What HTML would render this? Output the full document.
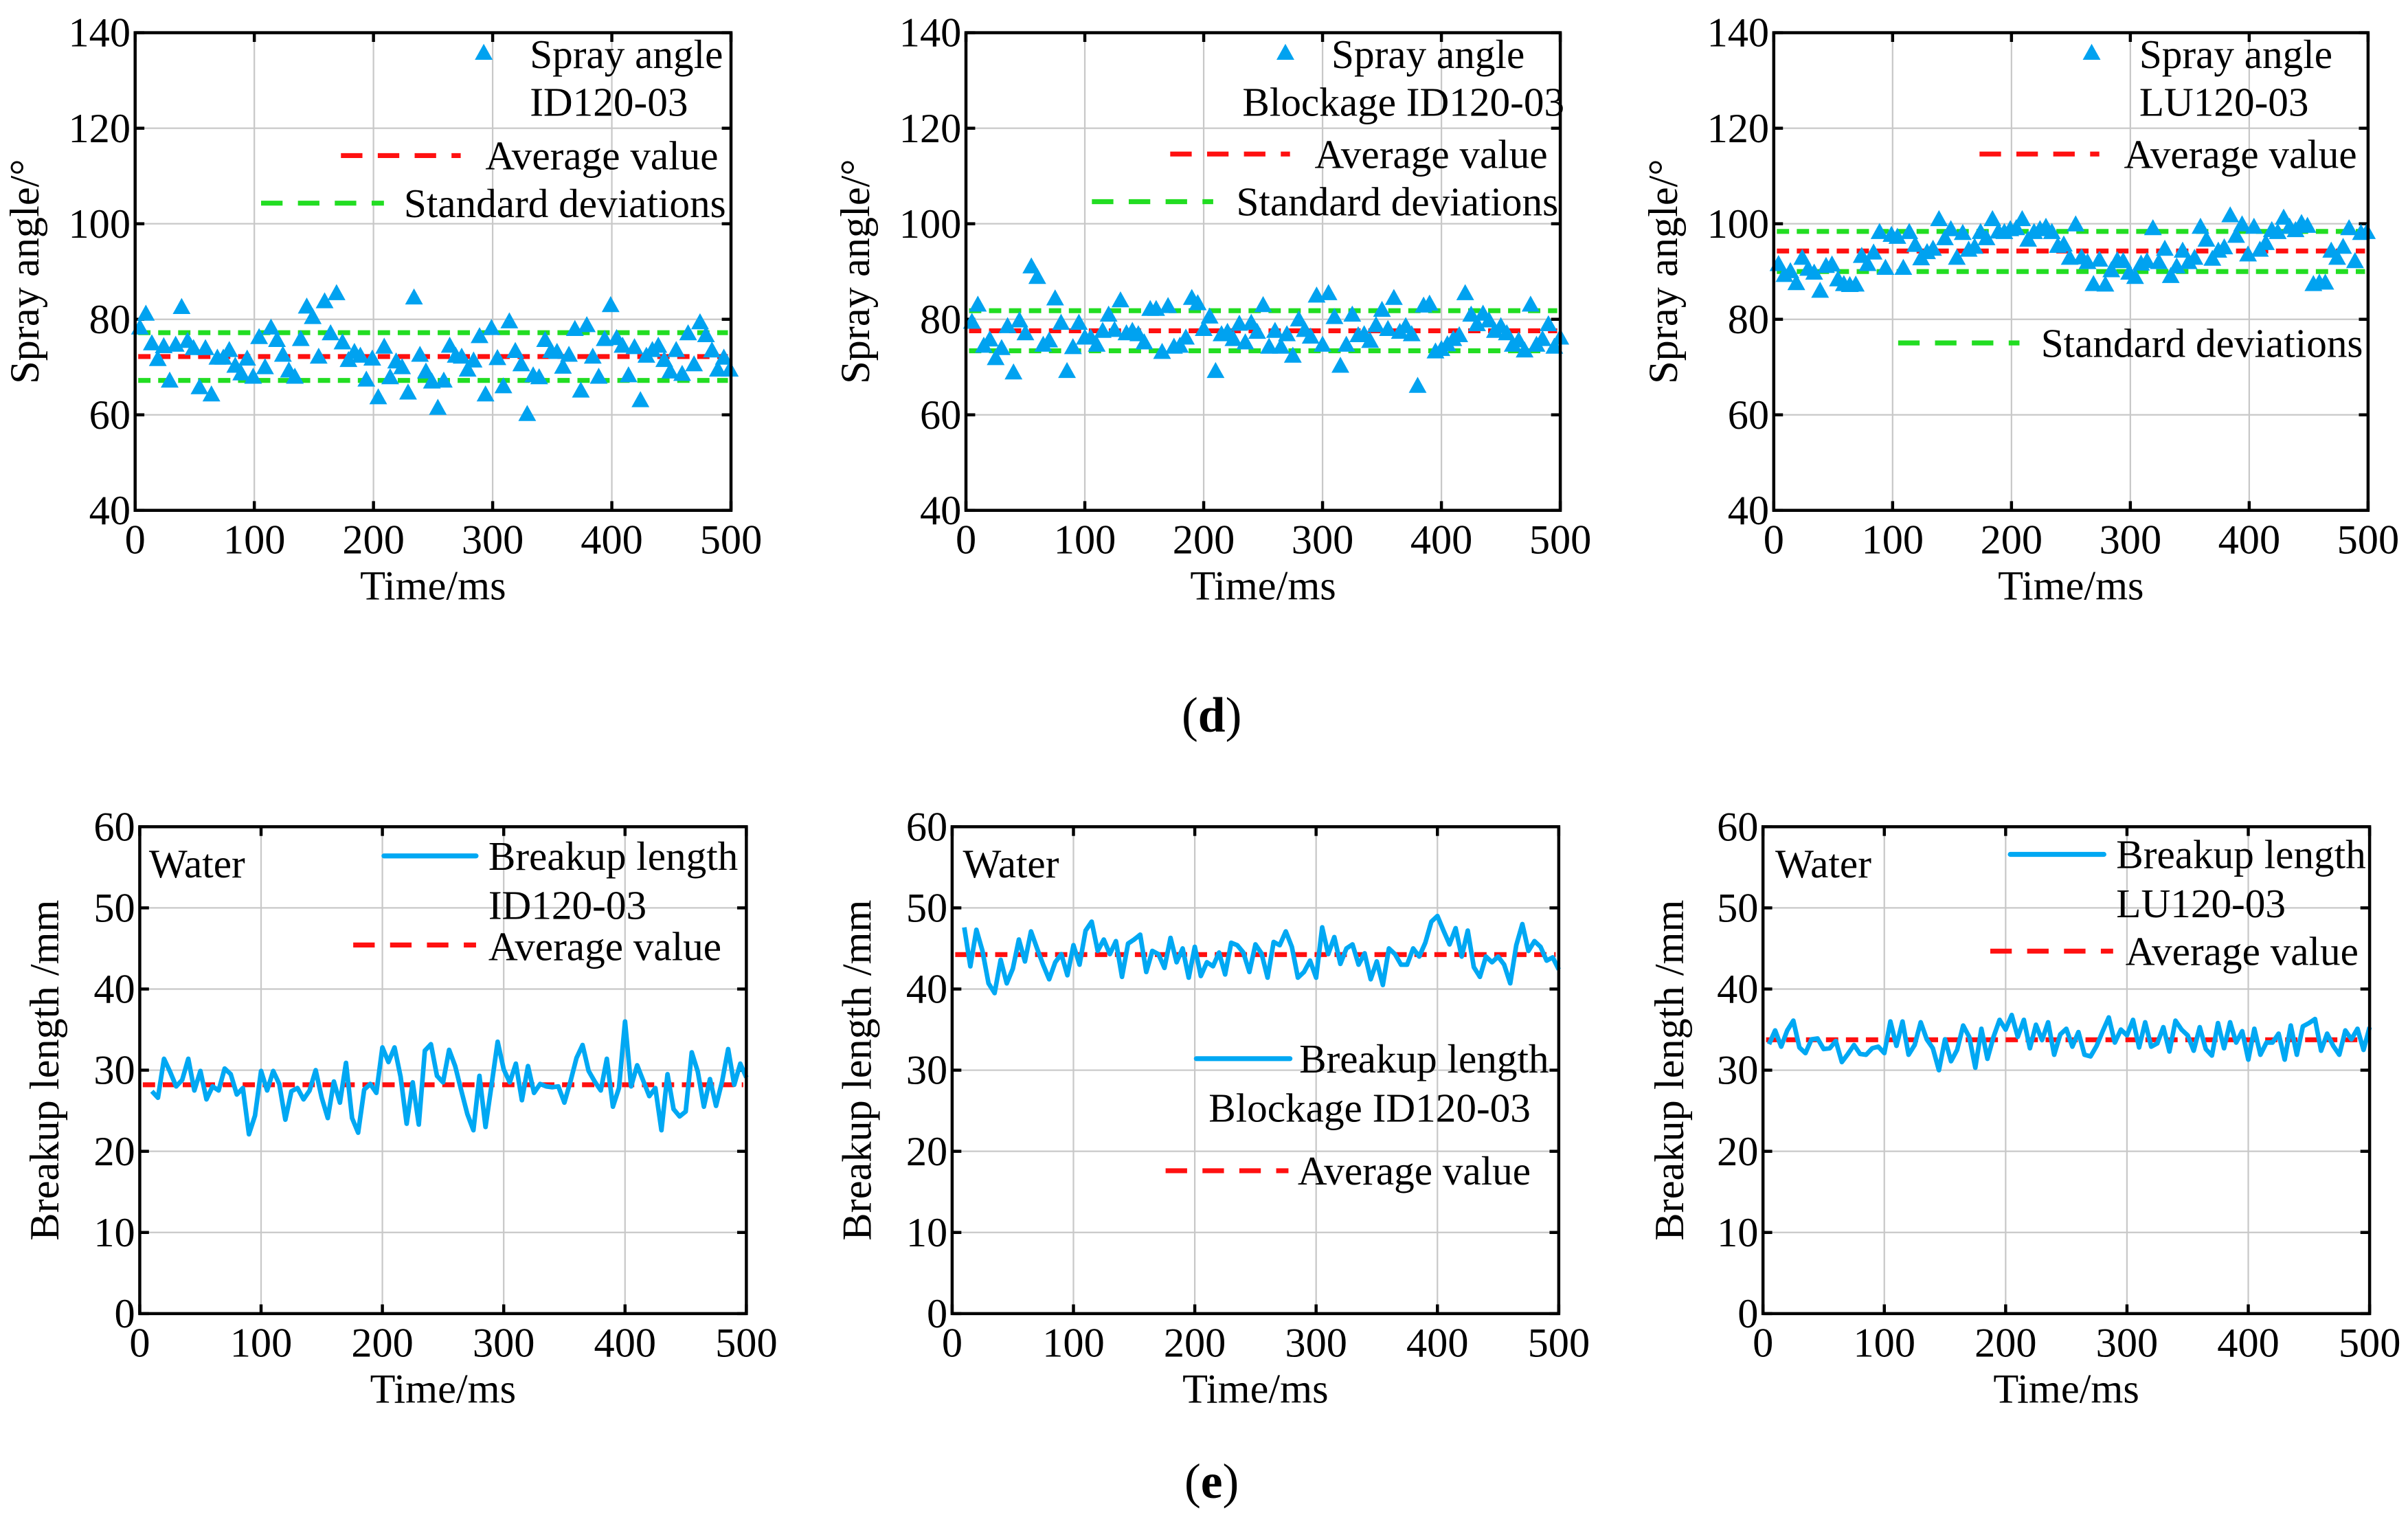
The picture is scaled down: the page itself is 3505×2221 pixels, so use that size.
<!DOCTYPE html>
<html><head><meta charset="utf-8"><style>
html,body{margin:0;padding:0;background:#fff;}
svg{display:block;font-family:"Liberation Serif","Times New Roman",serif;}
</style></head><body>
<svg id="fig" width="3505" height="2221" viewBox="0 0 1568 993" xmlns="http://www.w3.org/2000/svg"></svg>
<script>
// ---- data ----
const sprayID = [78.3,81.2,75,71.7,74.4,67.2,74.7,82.6,75.5,74,65.8,74,64.3,72,72,73.6,70.3,68.7,71.8,68,76.3,70,78.3,75.7,72.6,69.3,68,75.9,82.7,80.5,72.2,83.8,77.1,85.5,75.2,71.5,73.2,72.4,67.4,71.8,63.7,74.3,67.9,71.2,70,64.7,84.6,72.6,69.1,67,61.5,67.2,74.5,72.4,72.2,69.5,71.4,76.5,64.3,78.2,71.9,66,79.6,73.4,70.6,60.2,68.3,67.9,75.7,73.4,73.2,70.1,72.6,78,65.1,78.8,72.2,68,75.9,83,76.1,74.5,68.3,74.2,63.1,72.4,73.6,74.5,71.5,69.1,73.6,68.6,77.1,70.6,79.4,76.7,73.5,69.5,72,69.5];
const sprayBlock = [79.5,83.1,74.5,75.8,71.9,74,78.6,68.9,79.8,77.1,91.1,88.9,74.7,75.6,84.4,79.3,69.2,74.2,79.3,76.2,76.2,74.7,77.6,81,77.8,84,77.1,77.6,76.9,75.2,82.2,82.2,73.2,82.8,74.3,74.5,76.2,84.5,83.4,78,80.6,69.2,76.9,77.4,75.9,79.1,75.2,79.3,77.4,83,74.3,77.6,74.3,76.9,72.4,80,77.8,76.4,85,74.7,85.5,80.5,70.3,74.7,81,76.7,76.9,75.5,78.8,82,78,84.5,77.4,78.6,76.9,66.1,82.9,83.3,73.3,73.8,74.8,75.9,76.7,85.5,81,79,81.2,79.8,77.6,78.6,77.1,74.7,75.6,73.5,83.1,74.7,75.9,79,74.3,76.2];
const sprayLU = [91.6,89.3,90.1,87.6,92.9,90.6,89.8,86,91.2,91.5,88.4,87.4,87.2,87.3,93.3,91.6,94,98.3,90.8,97.7,97.3,90.8,98.3,95.6,92.8,94.1,94.8,101,97,98.9,92.9,98.1,94.6,95.2,98.3,97,101,98.4,98.3,98.9,99.1,101,96.7,98.3,98.9,99.4,98.3,95.4,95.7,92.9,99.9,93,92,87.4,92.5,87.3,90.3,92.4,92.2,89.8,88.9,91.7,92.2,99.1,92,94.8,89.1,91.1,94.4,92,92.9,99.4,96.7,92.7,94.4,95.1,101.8,97.5,99.9,93.6,99.4,94.6,96,98.7,98.3,101.3,99.4,98.7,100.2,99.6,87.4,87.7,87.7,94.4,92.9,95.2,99.1,92.2,98.1,98.3];
const breakID = [27.4,26.6,31.4,29.8,28,28.8,31.4,27.5,29.9,26.4,28,27.5,30.2,29.5,27,27.8,22.1,24.4,29.9,27.5,29.9,28.3,23.9,27.4,27.8,26.4,27.5,30,26.6,24.1,28.6,26,30.9,24.1,22.3,27.6,28.3,27.2,32.8,31,32.8,29.2,23.4,28.5,23.3,32.4,33.2,29.3,28.5,32.5,30.5,27.5,24.6,22.6,29.3,23,28.2,33.5,30.1,28.5,30.8,26.3,30.5,27.2,28.3,28,27.9,28,26,28.6,31.5,33.1,29.9,28.6,27.5,31.4,25.5,27.8,36,28,30.6,28.7,26.8,27.8,22.6,29.5,25.2,24.3,24.9,32.2,29.8,25.5,28.9,25.6,28.6,32.6,28.2,30.8,29.1];
const breakBlock = [47.6,42.8,47.3,44.7,40.7,39.5,43.6,40.7,42.5,46.1,43.4,47.1,45,43,41.2,43.3,44.3,41.7,45.4,43,47.2,48.3,44.7,46.1,44.3,45.9,41.5,45.6,46.1,46.7,42.1,44.7,44.3,42.6,46.3,43.3,45,41.4,45.2,41.6,43.3,42.8,44.5,41.8,45.7,45.4,44.5,42.1,45.5,44.4,41.4,45.8,45.4,47.1,45.2,41.4,42.1,43.5,41.4,47.6,44.3,46.4,43.1,45,45.5,43,44.4,41.2,43.4,40.5,45,44.3,43,43,45,44,45.7,48.3,49,47.2,45.5,47.5,44,47.2,42.7,41.5,44,43.3,44,43,40.7,45.4,48,44.7,45.9,45.2,43.5,43.9,42.4];
const breakLU = [33.2,34.9,32.9,34.9,36.1,32.8,32.1,33.8,33.9,32.6,32.7,33.6,31,32,33.1,32,31.9,32.7,32.9,32.1,36,33,36,31.9,33.1,35.9,33.8,32.7,30,33.8,31.1,32.5,35.5,34.1,30.3,35.1,31.4,34.1,36.2,35,36.8,34.1,36.2,32.7,35.6,33.7,35.9,31.9,34.4,35.1,32.9,34.7,31.9,31.7,33,34.8,36.5,33.4,35,34.3,36.2,32.8,35.9,32.9,33.3,35.3,32.3,36.1,35,34.3,32.4,35.3,32.6,31.8,35.8,32.7,35.9,33.4,34.8,31.3,35.1,31.9,33.4,33.4,34.5,31.3,35.5,31.9,35.4,35.8,36.3,32.4,34.5,33,31.9,34.9,33.8,35.1,32.5,35.3];
const avgVals = [72.2, 77.6, 94.3, 28.2, 44.25, 33.75];
const stdLow = [67.2, 73.4, 90.0];
const stdHigh = [77.2, 81.8, 98.4];
const xTicks = [0,100,200,300,400,500];
const yTicksTop = [40,60,80,100,120,140];
const yTicksBot = [0,10,20,30,40,50,60];
const tStart = [4,5,4,10,10,5];

const NS="http://www.w3.org/2000/svg";
const svg=document.getElementById('fig');
function mk(tag,attrs,parent,text){const e=document.createElementNS(NS,tag);for(const k in attrs)e.setAttribute(k,attrs[k]);if(text!==undefined)e.textContent=text;(parent||svg).appendChild(e);return e;}
const FS=27;
const LFS=26.5;

function panel(idx,L,R,T,B,ymin,ymax,yticks,ytitle,titleX){
  const g=mk('g',{});
  
  
  const sx=v=>L+(v-0)/500*(R-L);
  const sy=v=>B-(v-ymin)/(ymax-ymin)*(B-T);
  xTicks.forEach(t=>{if(t>0&&t<500){const l=mk('line',{x1:sx(t),x2:sx(t),y1:T,y2:B,stroke:'#c8c8c8','stroke-width':1},g);}});
  yticks.forEach(v=>{if(v>ymin&&v<ymax){const l=mk('line',{x1:L,x2:R,y1:sy(v),y2:sy(v),stroke:'#c8c8c8','stroke-width':1},g);}});
  xTicks.forEach(t=>{
    mk('line',{x1:sx(t),x2:sx(t),y1:B,y2:B-6,stroke:'#000','stroke-width':2},g);
    mk('line',{x1:sx(t),x2:sx(t),y1:T,y2:T+6,stroke:'#000','stroke-width':2},g);
    const tx=mk('text',{x:sx(t),y:B+28,'font-size':FS,'text-anchor':'middle'},g,String(t));
    
  });
  yticks.forEach(v=>{
    mk('line',{x1:L,x2:L+6,y1:sy(v),y2:sy(v),stroke:'#000','stroke-width':2},g);
    mk('line',{x1:R,x2:R-6,y1:sy(v),y2:sy(v),stroke:'#000','stroke-width':2},g);
    const tx=mk('text',{x:L-3,y:sy(v)+9,'font-size':FS,'text-anchor':'end'},g,String(v));
    
  });
  const xt=mk('text',{x:(L+R)/2,y:B+58,'font-size':FS,'text-anchor':'middle'},g,'Time/ms');
  
  const yt=mk('text',{x:0,y:0,'font-size':FS,'text-anchor':'middle',transform:`translate(${titleX},${(T+B)/2}) rotate(-90)`},g,ytitle);
  
  return {g,sx,sy,L,R,T,B};
}
function frame(p){const r=mk('rect',{x:p.L,y:p.T,width:p.R-p.L,height:p.B-p.T,fill:'none',stroke:'#000','stroke-width':2},p.g);}
function hline(p,v,color,name){const l=mk('line',{x1:p.L+2,x2:p.R-2,y1:p.sy(v),y2:p.sy(v),stroke:color,'stroke-width':3.2,'stroke-dasharray':'8 5'},p.g);}
function tri(parent,x,y,name){const s=5.8;const e=mk('polygon',{points:`${x},${y-s} ${x-s},${y+s*0.8} ${x+s},${y+s*0.8}`,fill:'#00a2f0'},parent);return e;}
function scatter(p,vals,t0){const g=mk('g',{},p.g);vals.forEach((v,i)=>{tri(g,p.sx(t0+i*5),p.sy(v),'spray-angle-point');});}
function line(p,vals,t0){const pts=vals.map((v,i)=>p.sx(t0+i*5)+','+p.sy(v)).join(' ');const l=mk('polyline',{points:pts,fill:'none',stroke:'#00a8f3','stroke-width':3,'stroke-linejoin':'round'},p.g);}
function ltext(p,x,y,s,name){const t=mk('text',{x:x,y:y,'font-size':LFS},p.g,s);}
function ldash(p,x1,x2,y,color,name){const l=mk('line',{x1:x1,x2:x2,y1:y,y2:y,stroke:color,'stroke-width':3.2,'stroke-dasharray':'14 10'},p.g);}
function lsolid(p,x1,x2,y,name){const l=mk('line',{x1:x1,x2:x2,y1:y,y2:y,stroke:'#00a8f3','stroke-width':3.2,'stroke-linecap':'round'},p.g);}

// ---- top row ----
const sprayData=[sprayID,sprayBlock,sprayLU];
const topGeo=[[88,476,25],[629,1016,566],[1155,1542,1092]];
const topPanels=topGeo.map((gq,i)=>{
  const p=panel(i,gq[0],gq[1],21,332,40,140,yTicksTop,'Spray angle/°',gq[2]);
  hline(p,stdHigh[i],'#22dd22','std-dev-upper-line');
  hline(p,stdLow[i],'#22dd22','std-dev-lower-line');
  hline(p,avgVals[i],'#ff1010','average-line');
  scatter(p,sprayData[i],tStart[i]);
  frame(p);
  return p;
});
(function(){
  let p=topPanels[0];
  tri(p.g,315,34,'legend-marker-spray-angle');
  ltext(p,345,44,'Spray angle','legend-label-spray-angle');
  ltext(p,345,75,'ID120-03','legend-label-id');
  ldash(p,222,300,101,'#ff1010','legend-average-line');
  ltext(p,316,110,'Average value','legend-label-average');
  ldash(p,170,250,132,'#22dd22','legend-std-line');
  ltext(p,263,141,'Standard deviations','legend-label-std');
  p=topPanels[1];
  tri(p.g,837,34,'legend-marker-spray-angle');
  ltext(p,867,44,'Spray angle','legend-label-spray-angle');
  ltext(p,809,75,'Blockage ID120-03','legend-label-id');
  ldash(p,762,840,100,'#ff1010','legend-average-line');
  ltext(p,856,109,'Average value','legend-label-average');
  ldash(p,711,790,131,'#22dd22','legend-std-line');
  ltext(p,805,140,'Standard deviations','legend-label-std');
  p=topPanels[2];
  tri(p.g,1362,34,'legend-marker-spray-angle');
  ltext(p,1393,44,'Spray angle','legend-label-spray-angle');
  ltext(p,1393,75,'LU120-03','legend-label-id');
  ldash(p,1289,1367,100,'#ff1010','legend-average-line');
  ltext(p,1383,109,'Average value','legend-label-average');
  ldash(p,1236,1315,223,'#22dd22','legend-std-line');
  ltext(p,1329,232,'Standard deviations','legend-label-std');
})();

// ---- bottom row ----
const breakData=[breakID,breakBlock,breakLU];
const botGeo=[[91,486,38],[620,1015,567],[1148,1543,1096]];
const botPanels=botGeo.map((gq,i)=>{
  const p=panel(i+3,gq[0],gq[1],538,855,0,60,yTicksBot,'Breakup length /mm',gq[2]);
  hline(p,avgVals[i+3],'#ff1010','average-line');
  line(p,breakData[i],tStart[i+3]);
  frame(p);
  return p;
});
(function(){
  let p=botPanels[0];
  ltext(p,97,571,'Water','fluid-label');
  lsolid(p,250,310,557,'legend-breakup-line');
  ltext(p,318,566,'Breakup length','legend-label-breakup');
  ltext(p,318,598,'ID120-03','legend-label-id');
  ldash(p,230,310,615,'#ff1010','legend-average-line');
  ltext(p,318,625,'Average value','legend-label-average');
  p=botPanels[1];
  ltext(p,627,571,'Water','fluid-label');
  lsolid(p,779,840,689,'legend-breakup-line');
  ltext(p,846,698,'Breakup length','legend-label-breakup');
  ltext(p,787,730,'Blockage ID120-03','legend-label-id');
  ldash(p,759,839,762,'#ff1010','legend-average-line');
  ltext(p,845,771,'Average value','legend-label-average');
  p=botPanels[2];
  ltext(p,1156,571,'Water','fluid-label');
  lsolid(p,1309,1370,556,'legend-breakup-line');
  ltext(p,1378,565,'Breakup length','legend-label-breakup');
  ltext(p,1378,597,'LU120-03','legend-label-id');
  ldash(p,1296,1376,619,'#ff1010','legend-average-line');
  ltext(p,1384,628,'Average value','legend-label-average');
})();

const d=mk('text',{x:789,y:476,'font-size':32,'text-anchor':'middle'},svg);

d.innerHTML='(<tspan font-weight="bold">d</tspan>)';
const e=mk('text',{x:789,y:975,'font-size':32,'text-anchor':'middle'},svg);

e.innerHTML='(<tspan font-weight="bold">e</tspan>)';
</script>
</body></html>
